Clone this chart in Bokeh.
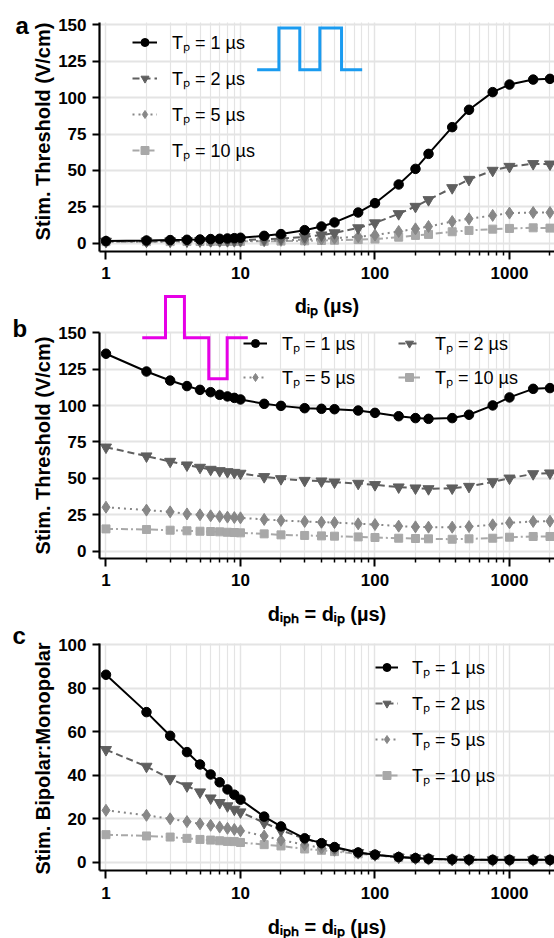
import math
from bokeh.plotting import figure
from bokeh.models import Range1d, FixedTicker, PrintfTickFormatter, Legend, LegendItem, Label
from bokeh.layouts import column
from bokeh.embed import file_html
from bokeh.resources import INLINE

# ---------------- data ----------------
d_us = [1, 2, 3, 4, 5, 6, 7, 8, 9, 10, 15, 20, 30, 40, 50, 75, 100, 150, 200, 250, 375, 500, 750, 1000, 1500, 2000]

# panel a: threshold vs d_ip
a_tp1 = [1.6, 2.0, 2.3, 2.5, 2.7, 3.0, 3.2, 3.4, 3.6, 3.9, 5.2, 6.4, 9.1, 11.6, 14.4, 21.2, 27.6, 40.4, 51.1, 61.4, 79.7, 91.6, 103.7, 108.9, 112.3, 112.8]
a_tp2 = [1.4, 1.5, 1.6, 1.7, 1.8, 1.9, 2.0, 2.1, 2.2, 2.3, 2.8, 3.4, 4.5, 5.7, 7.2, 10.6, 14.0, 20.3, 25.3, 29.9, 38.1, 43.8, 50.0, 52.7, 54.6, 54.3]
a_tp5 = [1.3, 1.3, 1.35, 1.4, 1.4, 1.45, 1.5, 1.5, 1.55, 1.6, 1.8, 2.1, 2.6, 3.1, 3.6, 4.6, 5.7, 8.2, 10.0, 11.6, 15.0, 16.9, 19.2, 20.8, 21.2, 21.2]
a_tp10 = [1.2, 1.25, 1.25, 1.3, 1.3, 1.3, 1.35, 1.35, 1.4, 1.4, 1.5, 1.6, 1.8, 2.0, 2.2, 2.6, 3.0, 4.3, 5.5, 6.2, 8.0, 8.9, 9.8, 10.3, 10.7, 10.5]

# panel b: threshold vs d_iph = d_ip
b_tp1 = [135.6, 123.4, 117.2, 113.4, 110.8, 109.2, 107.4, 106.3, 105.3, 104.2, 101.2, 99.8, 98.2, 97.8, 97.5, 96.6, 95.0, 92.7, 91.4, 90.9, 91.4, 93.7, 100.1, 105.6, 111.5, 112.0]
b_tp2 = [71.4, 65.3, 61.6, 59.1, 57.5, 56.1, 55.2, 54.5, 54.0, 53.4, 51.1, 49.7, 48.5, 48.1, 47.4, 46.5, 45.6, 44.0, 43.3, 42.8, 43.3, 44.4, 47.6, 50.1, 53.1, 53.6]
b_tp5 = [30.2, 28.2, 27.0, 25.6, 25.0, 24.3, 23.8, 23.4, 23.1, 22.9, 21.8, 21.1, 20.4, 19.9, 19.7, 18.8, 18.3, 17.2, 16.7, 16.5, 16.5, 16.9, 18.1, 19.5, 20.4, 20.6]
b_tp10 = [15.3, 14.9, 14.4, 14.0, 13.7, 13.5, 13.3, 13.0, 12.8, 12.6, 11.9, 11.2, 10.8, 10.5, 10.3, 9.8, 9.4, 8.9, 8.7, 8.5, 8.2, 8.5, 8.9, 9.6, 10.1, 10.1]

# panel c: bipolar : monopolar ratio
c_tp1 = [86.2, 69.0, 58.1, 50.6, 44.9, 40.3, 36.7, 33.4, 31.0, 28.7, 20.9, 16.4, 10.9, 8.7, 6.9, 4.4, 3.4, 2.3, 1.8, 1.5, 1.2, 1.1, 1.0, 1.0, 1.0, 1.0]
c_tp2 = [51.7, 44.0, 38.3, 35.0, 32.2, 29.4, 27.3, 25.8, 24.2, 23.0, 18.1, 14.6, 10.7, 8.4, 6.6, 4.3, 3.3, 2.2, 1.8, 1.5, 1.15, 1.05, 0.95, 0.95, 0.98, 1.0]
c_tp5 = [23.8, 21.5, 19.9, 18.6, 17.6, 16.9, 16.1, 15.5, 15.0, 14.4, 12.0, 10.1, 8.0, 6.4, 5.4, 4.1, 3.2, 2.2, 1.75, 1.45, 1.1, 1.0, 0.95, 0.95, 0.97, 0.98]
c_tp10 = [12.6, 12.0, 11.5, 10.9, 10.4, 10.1, 9.8, 9.5, 9.4, 9.0, 8.0, 7.4, 6.0, 5.4, 4.8, 3.8, 3.1, 2.1, 1.6, 1.4, 1.05, 0.95, 0.9, 0.93, 0.95, 0.96]

series_labels = ["Tₚ = 1 µs", "Tₚ = 2 µs", "Tₚ = 5 µs", "Tₚ = 10 µs"]
x_major = [1, 10, 100, 1000]
x_minor = [m * 10 ** k for k in range(4) for m in range(2, 10) if m * 10 ** k <= 2000]
y_ticks_ab = [0, 25, 50, 75, 100, 125, 150]
y_ticks_c = [0, 20, 40, 60, 80, 100]

# waveform icons (decoration)
icon_a_x = [13.3, 19.3, 19.3, 27.6, 27.6, 38.9, 38.9, 56.4, 56.4, 80.3]
icon_a_y = [119, 119, 147.7, 147.7, 119, 119, 147.7, 147.7, 119, 119]
icon_b_x = [1.86, 2.77, 2.77, 3.83, 3.83, 5.81, 5.81, 7.96, 7.96, 11.33]
icon_b_y = [146.6, 146.6, 174.9, 174.9, 146.6, 146.6, 118.4, 118.4, 146.6, 146.6]

# ---------------- style ----------------
FONT = "Liberation Sans"
styles = [
    dict(color="#000000", dash="solid", marker="circle", size=9.5),
    dict(color="#5f5f5f", dash="7 4", marker="inverted_triangle", size=11),
    dict(color="#878787", dash="2 4", marker="diamond", size=12),
    dict(color="#a8a8a8", dash="7 3 2 3", marker="square", size=8),
]
GRID = "#e4e4e4"
X0, X1 = 0.1643, 2161     # visible x extent (frame covers the whole canvas)
XAX = 0.895               # where the y axis sits


def make_fig(height, y0, y1, yax, ytop, yticks):
    p = figure(width=554, height=height, x_axis_type="log",
               x_range=Range1d(X0, X1), y_range=Range1d(y0, y1),
               output_backend="svg", toolbar_location=None,
               min_border_left=0, min_border_right=0,
               min_border_top=0, min_border_bottom=0)
    p.outline_line_color = None
    p.background_fill_color = "white"
    p.border_fill_color = "white"
    xa = p.xaxis[0]
    xa.ticker = FixedTicker(ticks=x_major, minor_ticks=x_minor)
    xa.formatter = PrintfTickFormatter(format="%d")
    xa.fixed_location = yax
    xa.bounds = (XAX, X1)
    ya = p.yaxis[0]
    ya.ticker = FixedTicker(ticks=yticks)
    ya.fixed_location = XAX
    ya.bounds = (yax, ytop)
    for ax in (xa, ya):
        ax.axis_line_width = 2.2
        ax.axis_line_color = "black"
        ax.major_tick_line_width = 2
        ax.major_tick_line_color = "black"
        ax.major_tick_in = 0
        ax.minor_tick_in = 0
        ax.major_label_text_font = FONT
        ax.major_label_text_font_size = "17px"
        ax.major_label_text_font_style = "bold"
        ax.major_label_text_color = "black"
    xa.major_tick_out = 8
    xa.minor_tick_out = 4
    xa.minor_tick_line_width = 1.5
    xa.minor_tick_line_color = "black"
    xa.major_label_standoff = 8
    ya.major_tick_out = 7
    ya.minor_tick_line_color = None
    ya.major_label_standoff = 6
    p.xgrid.grid_line_color = GRID
    p.xgrid.grid_line_width = 1.5
    p.xgrid.minor_grid_line_color = GRID
    p.xgrid.minor_grid_line_width = 1.2
    p.ygrid.grid_line_color = GRID
    p.ygrid.grid_line_width = 2
    for g in list(p.xgrid) + list(p.ygrid):
        if "cross_bounds" in g.properties():
            g.cross_bounds = (yax, ytop) if g.dimension == 0 else (XAX, X1)
    return p


def add_series(p, ys_list):
    items = []
    for lab, ys, st in reversed(list(zip(series_labels, ys_list, styles))):
        l = p.line(d_us, ys, line_color=st["color"], line_width=2, line_dash=st["dash"])
        s = p.scatter(d_us, ys, marker=st["marker"], size=st["size"],
                      fill_color=st["color"], line_color=st["color"])
        items.append(LegendItem(label=lab, renderers=[l, s]))
    return list(reversed(items))


def make_legend(items, loc, gw, spacing, standoff):
    lg = Legend(items=items, location=loc)
    lg.glyph_width = gw
    lg.glyph_height = 20
    lg.label_height = 20
    lg.spacing = spacing
    lg.padding = 0
    lg.margin = 0
    lg.border_line_color = None
    lg.background_fill_alpha = 0
    lg.label_standoff = standoff
    lg.label_text_font = FONT
    lg.label_text_font_size = "18px"
    lg.label_text_color = "black"
    return lg


def text(p, txt, x, y, size, angle=0.0, align="left", baseline="alphabetic"):
    p.add_layout(Label(x=x, y=y, x_units="screen", y_units="screen", text=txt, angle=angle,
                       text_font=FONT, text_font_size=size, text_font_style="bold",
                       text_color="black", text_baseline=baseline, text_align=align))


XMID = 326.5

# ---------------- panel a ----------------
pa = make_fig(287, -30.2, 166.5, -5.5, 151.4, y_ticks_ab)
items_a = add_series(pa, [a_tp1, a_tp2, a_tp5, a_tp10])
pa.line(icon_a_x, icon_a_y, line_color="#1a9bf0", line_width=3, line_join="miter")
pa.add_layout(make_legend(items_a, (132, 125), 25, 12, 15))
text(pa, "a", 15, 262, "24px")
text(pa, "Stim. Threshold (V/cm)", 42, 156, "20px", math.pi / 2, "center", "middle")

# ---------------- panel b ----------------
pb = make_fig(311, -32.5, 181.1, -5.0, 150.5, y_ticks_ab)
items_b = add_series(pb, [b_tp1, b_tp2, b_tp5, b_tp10])
pb.line(icon_b_x, icon_b_y, line_color="#e600e6", line_width=3, line_join="miter")
pb.add_layout(make_legend([items_b[0], items_b[2]], (243, 209), 24, 10, 15))
pb.add_layout(make_legend([items_b[1], items_b[3]], (398, 209), 22, 10, 15))
text(pb, "dᵢₚ (µs)", XMID, 293, "20px", align="center")          # x title of panel a
text(pb, "b", 12, 270, "24px")
text(pb, "Stim. Threshold (V/cm)", 42, 153, "20px", math.pi / 2, "center", "middle")

# ---------------- panel c ----------------
pc = make_fig(340, -35.2, 121.3, -3.9, 100.5, y_ticks_c)
items_c = add_series(pc, [c_tp1, c_tp2, c_tp5, c_tp10])
pc.add_layout(make_legend(items_c, (375, 151), 23, 12, 14))
text(pc, "dᵢₚₕ = dᵢₚ (µs)", XMID, 325, "20px", align="center")    # x title of panel b
text(pc, "c", 12, 303, "24px")
text(pc, "Stim. Bipolar:Monopolar", 42, 180, "20px", math.pi / 2, "center", "middle")
text(pc, "dᵢₚₕ = dᵢₚ (µs)", XMID, 12, "20px", align="center")

layout = column(pa, pb, pc, spacing=0)
open("out.html", "w").write(file_html(layout, INLINE))
